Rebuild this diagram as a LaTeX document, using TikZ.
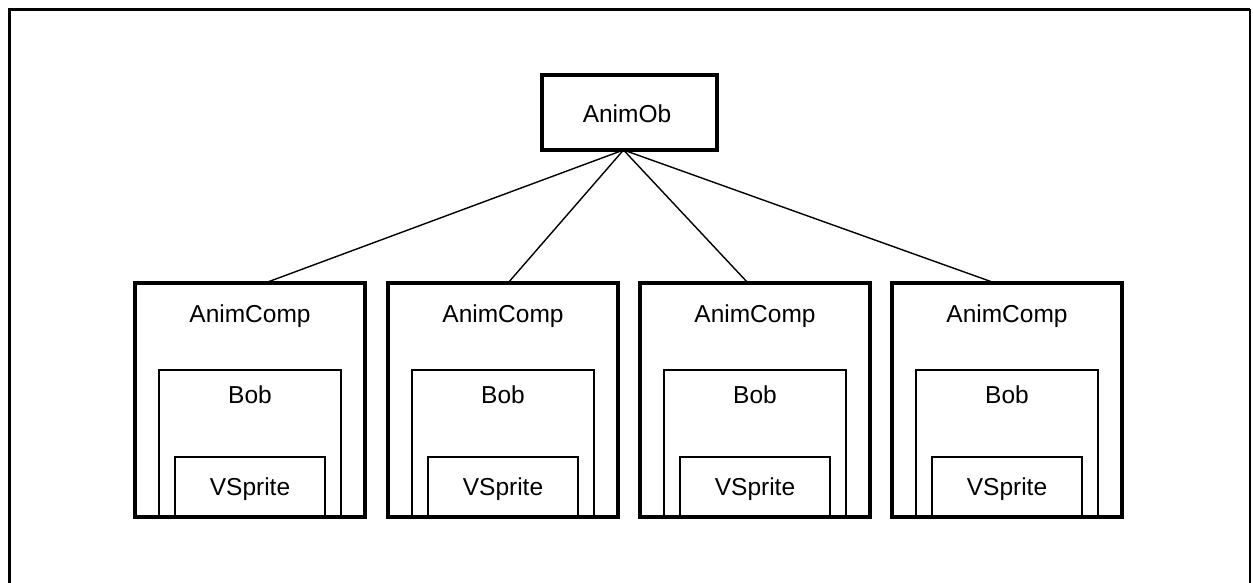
\documentclass[tikz,border=0pt]{standalone}
\usepackage{fontspec}
\setmainfont{Liberation Sans}
\begin{document}
\begin{tikzpicture}[x=1pt,y=-1pt,
  lbl/.style={font=\fontsize{24.5}{27}\selectfont, anchor=base, inner sep=0pt},
  compbox/.style={draw, line width=3.8pt, minimum width=230pt, minimum height=234pt, inner sep=0pt, outer sep=0pt},
  bobbox/.style={draw, line width=2.4pt, minimum width=182pt, minimum height=147pt, inner sep=0pt, outer sep=0pt},
  vsbox/.style={draw, line width=2.4pt, minimum width=150pt, minimum height=60pt, inner sep=0pt, outer sep=0pt},
  obbox/.style={draw, line width=3.8pt, minimum width=175pt, minimum height=75pt, inner sep=0pt, outer sep=0pt},
  conn/.style={line width=1.4pt}]
\useasboundingbox (0,0) rectangle (1253,582);
% outer frame (open at bottom)
\coordinate (fbl) at (9,584);
\coordinate (ftl) at (9,9);
\coordinate (ftr) at (1250,9);
\coordinate (fbr) at (1250,584);
\draw[line width=3pt] (fbl) -- (ftl) -- (ftr);
\draw[line width=1.6pt] (ftr) -- (fbr);
% top node
\node[obbox] (ob) at (629.5,112.5) {};
\node[lbl] (obt) at (627,122) {AnimOb};
% components
\foreach \i/\l/\cx in {1/135/265, 2/388/508, 3/640/748, 4/892/995} {
  \node[compbox] (c\i) at (\l+115,400) {};
  \node[lbl] (c\i t) at (\l+115,322) {AnimComp};
  \node[bobbox] (b\i) at (\l+115,443.5) {};
  \node[lbl] (b\i t) at (\l+115,403) {Bob};
  \node[vsbox] (v\i) at (\l+115,487) {};
  \node[lbl] (v\i t) at (\l+115,495) {VSprite};
  \draw[conn] ([xshift=-6pt]ob.south) -- ([xshift=\cx-\l-115]c\i.north);
}
\end{tikzpicture}
\end{document}
